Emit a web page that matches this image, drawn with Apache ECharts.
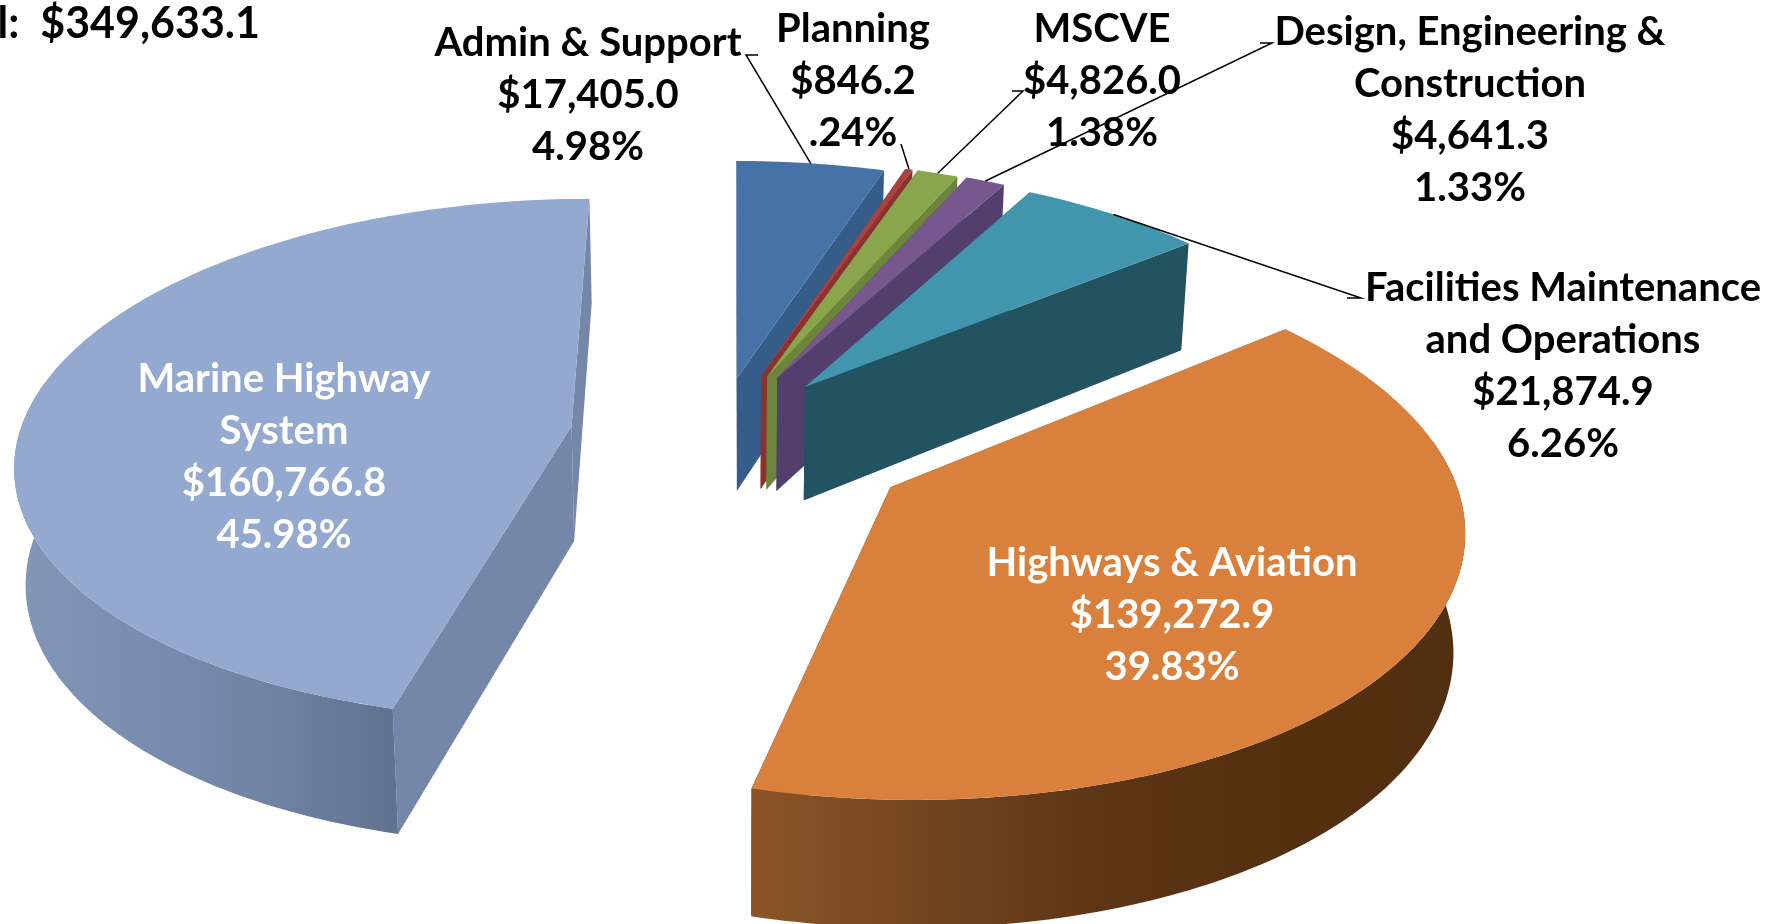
<!DOCTYPE html>
<html>
<head>
<meta charset="utf-8">
<title>Budget pie</title>
<style>
html, body { margin: 0; padding: 0; background: #fff; }
#main { width: 1782px; height: 924px; }
</style>
<script src="https://cdn.jsdelivr.net/npm/echarts@6/dist/echarts.min.js"></script>
</head>
<body>
<div id="main"></div>
<script>
var categories = ['Admin & Support', 'Planning', 'MSCVE', 'Design, Engineering &\nConstruction',
    'Facilities Maintenance\nand Operations', 'Highways & Aviation', 'Marine Highway\nSystem'];
var seriesValues = [17405.0, 846.2, 4826.0, 4641.3, 21874.9, 139272.9, 160766.8];
var totalLabel = 'Total:  $349,633.1';

// colours per slice: top face, side wall, curved wall gradient
var topColors = ['#4672a8', '#aa4340', '#8aa64c', '#76588f', '#4196ae', '#d8803c', '#93a9cf'];
var wallColors = ['#365c8a', '#8a3230', '#6c853a', '#533f6d', '#235261', '#6b3f1a', '#7587a8'];
var curveColors = [null, null, null, null, null,
    ['#8c5528', '#71441f', '#5c3517', '#54300f', '#532f12'],
    ['#8296b8', '#7a8db0', '#6f83a5', '#61718f']];

// how far each slice is pulled out of the pie, in pie radii (right, back)
var sliceOffsets = [[0.013, 0.192], [0.058, 0.2], [0.069, 0.197], [0.088, 0.192],
    [0.139, 0.155], [0.283, -0.232], [-0.288, 0]];

// label block centres
var labelCenters = [[588, 95], [853, 81], [1102, 81], [1470, 110], [1563, 366], [1172, 615], [284, 457]];
var labelColors = ['#000', '#000', '#000', '#000', '#000', '#fff', '#fff'];
var leaderEnds = [
    [[746, 55], [758, 55]],
    [[901, 144]],
    [[1023, 91], [1012, 91]],
    [[1272, 43], [1260, 43]],
    [[1361, 298], [1347, 298]],
    null,
    null
];

// camera for the tilted pie
var VIEW_X = 730, VIEW_Y = 426, SCALE_X = 550, SCALE_Y = 256, DEPTH = 0.127;
var FONT = 'bold 40px Lato, "Open Sans", sans-serif';

var sum = seriesValues.reduce(function (a, b) { return a + b; }, 0);
var cumulative = [];
seriesValues.reduce(function (acc, v, i) {
    cumulative[i] = [acc, acc + v / sum * 360];
    return acc + v / sum * 360;
}, 0);

function project(X, Y) {
    var w = 1 + DEPTH * Y;
    return [VIEW_X + SCALE_X * X / w, VIEW_Y - SCALE_Y * Y / w, w];
}
function rimPoint(i, deg) {
    var a = deg * Math.PI / 180;
    return project(sliceOffsets[i][0] + Math.sin(a), sliceOffsets[i][1] + Math.cos(a));
}
function below(p) {
    return [VIEW_X + (p[0] - VIEW_X) * 0.984, p[1] + 199 - 84 * p[2]];
}
function arcPoints(i, from, to) {
    var pts = [];
    var n = Math.max(2, Math.ceil(to - from));
    for (var k = 0; k <= n; k++) {
        pts.push(rimPoint(i, from + (to - from) * k / n));
    }
    return pts;
}
function money(v) {
    return '$' + v.toLocaleString('en-US', { minimumFractionDigits: 1, maximumFractionDigits: 1 });
}
function percent(v) {
    return (v / sum * 100).toFixed(2).replace(/^0/, '') + '%';
}
function poly(points, fill) {
    return {
        type: 'polygon',
        shape: { points: points.map(function (p) { return [p[0], p[1]]; }) },
        style: { fill: fill }
    };
}

function renderSlice(params) {
    var i = params.dataIndex;
    var from = cumulative[i][0], to = cumulative[i][1];
    var center = project(sliceOffsets[i][0], sliceOffsets[i][1]);
    var start = rimPoint(i, from), end = rimPoint(i, to);
    var children = [];

    // radial walls
    children.push(poly([center, start, below(start), below(center)], wallColors[i]));
    children.push(poly([center, end, below(end), below(center)], wallColors[i]));

    // curved wall, only the part that faces us
    var a = Math.max(from, 80), b = Math.min(to, 280);
    if (b > a && curveColors[i]) {
        var rim = arcPoints(i, a, b);
        var stops = curveColors[i].map(function (c, k, all) {
            return { offset: k / (all.length - 1), color: c };
        });
        children.push(poly(rim.concat(rim.slice().reverse().map(below)),
            new echarts.graphic.LinearGradient(0, 0, 1, 0, stops)));
    }

    // top face
    children.push(poly([center].concat(arcPoints(i, from, to)), topColors[i]));

    // leader line from the middle of the rim to the label
    if (leaderEnds[i]) {
        var anchor = rimPoint(i, (from + to) / 2);
        children.push({
            type: 'polyline',
            shape: { points: [[anchor[0], anchor[1]]].concat(leaderEnds[i]) },
            style: { stroke: '#000', lineWidth: 1.5, fill: null }
        });
    }

    children.push({
        type: 'text',
        style: {
            text: categories[i] + '\n' + money(seriesValues[i]) + '\n' + percent(seriesValues[i]),
            x: labelCenters[i][0],
            y: labelCenters[i][1],
            align: 'center',
            verticalAlign: 'middle',
            font: FONT,
            lineHeight: 52,
            fill: labelColors[i]
        }
    });
    return { type: 'group', children: children };
}

var myChart = echarts.init(document.getElementById('main'));

var option = {
    backgroundColor: '#fff',
    animation: false,
    graphic: [{
        type: 'text',
        z: 10,
        style: {
            text: totalLabel,
            x: 260,
            y: 24,
            align: 'right',
            verticalAlign: 'middle',
            font: 'bold 43px Lato, "Open Sans", sans-serif',
            fill: '#000'
        }
    }],
    series: [{
        type: 'custom',
        coordinateSystem: 'none',
        silent: true,
        renderItem: renderSlice,
        data: seriesValues
    }]
};

myChart.setOption(option);
</script>
</body>
</html>
